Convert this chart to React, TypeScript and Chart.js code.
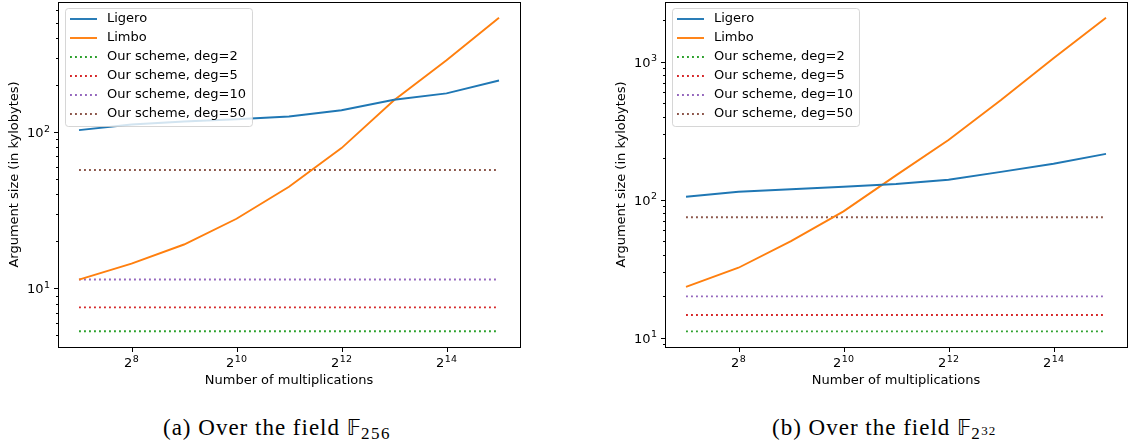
import React, { useEffect, useRef } from "react";
import { Chart, registerables } from "chart.js";

Chart.register(...registerables);

// ---------- data ----------
const multiplications = [128, 256, 512, 1024, 2048, 4096, 8192, 16384, 32768];

// (a) field F_256
const ligeroF256 = [103, 112, 117, 121, 126, 138, 161, 177, 214];
const limboF256 = [11.4, 14.4, 19.1, 27.9, 44.7, 79, 160, 288, 540];
const oursDeg2F256 = [5.32, 5.32, 5.32, 5.32, 5.32, 5.32, 5.32, 5.32, 5.32];
const oursDeg5F256 = [7.57, 7.57, 7.57, 7.57, 7.57, 7.57, 7.57, 7.57, 7.57];
const oursDeg10F256 = [11.4, 11.4, 11.4, 11.4, 11.4, 11.4, 11.4, 11.4, 11.4];
const oursDeg50F256 = [57.3, 57.3, 57.3, 57.3, 57.3, 57.3, 57.3, 57.3, 57.3];

// (b) field F_{2^32}
const ligeroF2p32 = [105, 114, 119, 124, 130, 139.5, 159, 182, 215];
const limboF2p32 = [23.3, 32.1, 50, 82.3, 150, 271, 527, 1059, 2084];
const oursDeg2F2p32 = [11.1, 11.1, 11.1, 11.1, 11.1, 11.1, 11.1, 11.1, 11.1];
const oursDeg5F2p32 = [14.6, 14.6, 14.6, 14.6, 14.6, 14.6, 14.6, 14.6, 14.6];
const oursDeg10F2p32 = [19.9, 19.9, 19.9, 19.9, 19.9, 19.9, 19.9, 19.9, 19.9];
const oursDeg50F2p32 = [74.5, 74.5, 74.5, 74.5, 74.5, 74.5, 74.5, 74.5, 74.5];

const seriesNames = [
  "Ligero",
  "Limbo",
  "Our scheme, deg=2",
  "Our scheme, deg=5",
  "Our scheme, deg=10",
  "Our scheme, deg=50",
];
const seriesColors = ["#1f77b4", "#ff7f0e", "#2ca02c", "#d62728", "#9467bd", "#8c564b"];
const seriesDotted = [false, false, true, true, true, true];

// tick labels as [base, exponent]
const xTickValues = [256, 1024, 4096, 16384];
const xTickLabels = [["2", "8"], ["2", "10"], ["2", "12"], ["2", "14"]];
const xRange = [97, 43238];

const yMajorF256 = [10, 100];
const yMajorLabelsF256 = [["10", "1"], ["10", "2"]];
const yMinorF256 = [5, 6, 7, 8, 9, 20, 30, 40, 50, 60, 70, 80, 90, 200, 300, 400, 500, 600];
const yRangeF256 = [4.22, 680];

const yMajorF2p32 = [10, 100, 1000];
const yMajorLabelsF2p32 = [["10", "1"], ["10", "2"], ["10", "3"]];
const yMinorF2p32 = [9, 20, 30, 40, 50, 60, 70, 80, 90, 200, 300, 400, 500, 600, 700, 800, 900, 2000];
const yRangeF2p32 = [8.55, 2710];

const FONT = "'DejaVu Sans', sans-serif";
const DOT_DASH = [1.9, 3.1];
const LW = 1.9;

function drawSci(ctx: CanvasRenderingContext2D, base: string, exp: string, x: number, baseline: number, align: "center" | "right") {
  ctx.font = "13px " + FONT;
  const wb = ctx.measureText(base).width;
  ctx.font = "9.5px " + FONT;
  const we = ctx.measureText(exp).width;
  const total = wb + 0.5 + we;
  const x0 = align === "center" ? x - total / 2 : x - total;
  ctx.textAlign = "left";
  ctx.textBaseline = "alphabetic";
  ctx.fillStyle = "#000";
  ctx.font = "13px " + FONT;
  ctx.fillText(base, x0, baseline);
  ctx.font = "9.5px " + FONT;
  ctx.fillText(exp, x0 + wb + 0.5, baseline - 5.5);
}

// ---------- plugin: matplotlib-like frame, ticks, tick labels, legend ----------
const mplPlugin = {
  id: "mpl",
  afterDraw(chart: any) {
    const cfg = chart.options.plugins.mpl;
    const ctx = chart.ctx as CanvasRenderingContext2D;
    const a = chart.chartArea;
    const xs = chart.scales.x;
    const ys = chart.scales.y;
    ctx.save();
    ctx.strokeStyle = "#000";
    ctx.lineWidth = 1;
    ctx.setLineDash([]);
    ctx.beginPath();
    const L = Math.floor(a.left) + 0.5;
    const B = Math.floor(a.bottom) + 0.5;
    for (const t of ys.ticks) {
      const y = Math.round(ys.getPixelForValue(t.value)) + 0.5;
      const len = cfg.yMajor.includes(t.value) ? 4.5 : 2.5;
      ctx.moveTo(L - len, y);
      ctx.lineTo(L, y);
    }
    for (const t of xs.ticks) {
      const x = Math.round(xs.getPixelForValue(t.value)) + 0.5;
      ctx.moveTo(x, B);
      ctx.lineTo(x, B + 4.5);
    }
    ctx.stroke();
    ctx.strokeRect(L, Math.floor(a.top) + 0.5, Math.round(a.right - a.left), Math.round(a.bottom - a.top));

    // tick labels
    xTickValues.forEach((v, i) => {
      const x = xs.getPixelForValue(v);
      drawSci(ctx, xTickLabels[i][0], xTickLabels[i][1], x, a.bottom + 20, "center");
    });
    cfg.yMajor.forEach((v: number, i: number) => {
      const y = ys.getPixelForValue(v);
      drawSci(ctx, cfg.yMajorLabels[i][0], cfg.yMajorLabels[i][1], a.left - 8, y + 5, "right");
    });

    // legend
    const ds = chart.data.datasets;
    ctx.font = "13px " + FONT;
    let maxW = 0;
    for (const d of ds) maxW = Math.max(maxW, ctx.measureText(d.label).width);
    const lx = a.left + 7;
    const ly = a.top + 6;
    const rowH = 19;
    const w = 42 + maxW + 6;
    const h = ds.length * rowH + 4;
    ctx.beginPath();
    (ctx as any).roundRect(lx + 0.5, ly + 0.5, w, h, 3);
    ctx.fillStyle = "rgba(255,255,255,0.8)";
    ctx.fill();
    ctx.strokeStyle = "rgba(204,204,204,0.8)";
    ctx.stroke();
    ds.forEach((d: any, i: number) => {
      const cy = ly + 11 + i * rowH;
      ctx.beginPath();
      ctx.setLineDash(d.borderDash || []);
      ctx.lineCap = "butt";
      ctx.strokeStyle = d.borderColor;
      ctx.lineWidth = LW;
      ctx.moveTo(lx + 5, cy);
      ctx.lineTo(lx + 32, cy);
      ctx.stroke();
      ctx.setLineDash([]);
      ctx.fillStyle = "#000";
      ctx.textBaseline = "middle";
      ctx.textAlign = "left";
      ctx.fillText(d.label, lx + 42, cy);
    });
    ctx.restore();
  },
};

type PanelProps = {
  left: number;
  width: number;
  yAxisWidth: number;
  padRight: number;
  yTitlePad: number;
  series: number[][];
  yMajor: number[];
  yMajorLabels: string[][];
  yMinor: number[];
  yRange: number[];
};

function Panel(p: PanelProps) {
  const ref = useRef<HTMLCanvasElement | null>(null);
  useEffect(() => {
    if (!ref.current) return;
    const datasets = p.series.map((vals, i) => ({
      label: seriesNames[i],
      data: multiplications.map((m, j) => ({ x: m, y: vals[j] })),
      borderColor: seriesColors[i],
      backgroundColor: seriesColors[i],
      borderWidth: LW,
      borderDash: seriesDotted[i] ? DOT_DASH : [],
      borderCapStyle: "butt",
      pointRadius: 0,
      tension: 0,
      fill: false,
    }));
    const tickFont = { family: FONT, size: 13 };
    const chart = new Chart(ref.current, {
      type: "line",
      data: { datasets },
      plugins: [mplPlugin],
      options: {
        animation: false,
        responsive: false,
        devicePixelRatio: 1,
        layout: { padding: { left: 0, right: p.padRight, top: 2, bottom: 8 } },
        plugins: {
          legend: { display: false },
          tooltip: { enabled: false },
          mpl: { yMajor: p.yMajor, yMajorLabels: p.yMajorLabels },
        } as any,
        scales: {
          x: {
            type: "logarithmic",
            min: xRange[0],
            max: xRange[1],
            afterFit: (s: any) => {
              s.height = 45;
              s.paddingLeft = 0;
              s.paddingRight = 0;
              s.paddingTop = 0;
              s.paddingBottom = 0;
            },
            afterBuildTicks: (s: any) => {
              s.ticks = xTickValues.map((v) => ({ value: v }));
            },
            ticks: {
              autoSkip: false,
              maxRotation: 0,
              padding: 8,
              color: "#000",
              font: tickFont,
              callback: () => "",
            },
            grid: { display: false, drawTicks: false },
            border: { display: false },
            title: {
              display: true,
              text: "Number of multiplications",
              color: "#000",
              font: tickFont,
              padding: { top: 0, bottom: 4 },
            },
          },
          y: {
            type: "logarithmic",
            min: p.yRange[0],
            max: p.yRange[1],
            afterFit: (s: any) => {
              s.width = p.yAxisWidth;
              s.paddingLeft = 0;
              s.paddingRight = 0;
              s.paddingTop = 0;
              s.paddingBottom = 0;
            },
            afterBuildTicks: (s: any) => {
              s.ticks = [...p.yMinor, ...p.yMajor].sort((a, b) => a - b).map((v) => ({ value: v }));
            },
            ticks: {
              autoSkip: false,
              padding: 9,
              color: "#000",
              font: tickFont,
              callback: () => "",
            },
            grid: { display: false, drawTicks: false },
            border: { display: false },
            title: {
              display: true,
              text: "Argument size (in kylobytes)",
              color: "#000",
              font: tickFont,
              padding: { top: p.yTitlePad, bottom: 0 },
            },
          },
        },
      } as any,
    });
    return () => chart.destroy();
  }, []);
  return (
    <canvas
      ref={ref}
      width={p.width}
      height={400}
      style={{ position: "absolute", left: p.left, top: 0, width: p.width, height: 400, display: "block" }}
    />
  );
}

export default function App() {
  const captionStyle: React.CSSProperties = {
    position: "absolute",
    top: 416,
    fontFamily: "'Liberation Serif', serif",
    fontSize: 23,
    letterSpacing: "1px",
    color: "#000",
    whiteSpace: "nowrap",
    lineHeight: "23px",
  };
  const bb: React.CSSProperties = { fontFamily: "'DejaVu Sans', sans-serif", fontSize: 21, letterSpacing: 0 };
  const sub: React.CSSProperties = { fontSize: 17, verticalAlign: "-4px", letterSpacing: "1.5px" };
  return (
    <div style={{ position: "absolute", left: 0, top: 0, width: 1129, height: 444, background: "#fff", overflow: "hidden" }}>
      <Panel
        left={0}
        width={530}
        yAxisWidth={58}
        padRight={10}
        yTitlePad={7}
        series={[ligeroF256, limboF256, oursDeg2F256, oursDeg5F256, oursDeg10F256, oursDeg50F256]}
        yMajor={yMajorF256}
        yMajorLabels={yMajorLabelsF256}
        yMinor={yMinorF256}
        yRange={yRangeF256}
      />
      <Panel
        left={600}
        width={529}
        yAxisWidth={65}
        padRight={2}
        yTitlePad={14}
        series={[ligeroF2p32, limboF2p32, oursDeg2F2p32, oursDeg5F2p32, oursDeg10F2p32, oursDeg50F2p32]}
        yMajor={yMajorF2p32}
        yMajorLabels={yMajorLabelsF2p32}
        yMinor={yMinorF2p32}
        yRange={yRangeF2p32}
      />
      <div style={{ ...captionStyle, left: 163 }}>
        (a) Over the field <span style={bb}>𝔽</span>
        <span style={sub}>256</span>
      </div>
      <div style={{ ...captionStyle, left: 772 }}>
        (b) Over the field <span style={bb}>𝔽</span>
        <span style={sub}>
          2<span style={{ fontSize: 13, verticalAlign: "4px", letterSpacing: "1px" }}>32</span>
        </span>
      </div>
    </div>
  );
}
